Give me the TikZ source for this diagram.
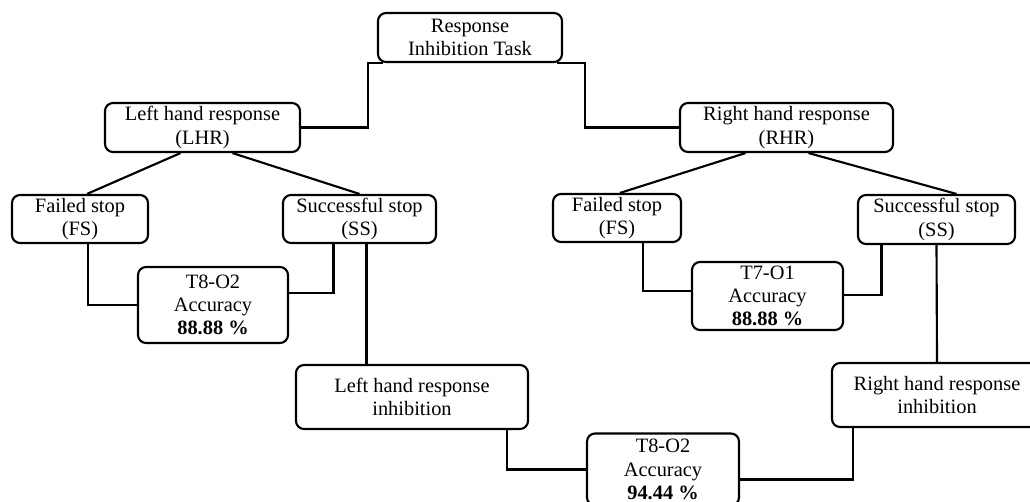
\documentclass[tikz,border=0pt]{standalone}
\usepackage{fontspec}
\setmainfont{Liberation Serif}
\usetikzlibrary{calc}

\tikzset{
  box/.style={draw, rounded corners=6pt, line width=1.6pt, align=center, inner sep=0pt,
    font=\fontsize{15.3}{17.4}\selectfont},
  link/.style={line width=1.6pt}
}

\begin{document}
\begin{tikzpicture}[x=0.75pt,y=0.75pt,yscale=-1,xscale=1]
\useasboundingbox (0,0) rectangle (1030,502);
%Shape: top box
\node [box, minimum width=138pt, minimum height=36.75pt] (top) at (470,37.5) {Response\\Inhibition Task};
%Shape: hand responses
\node [box, minimum width=146.25pt, minimum height=36.75pt] (lhr) at (202.5,127.5) {Left hand response\\(LHR)};
\node [box, minimum width=159.75pt, minimum height=36.75pt] (rhr) at (786.5,127.5) {Right hand response\\(RHR)};
%Shape: stops
\node [box, minimum width=102pt, minimum height=36pt] (fsl) at (80,219) {Failed stop\\(FS)};
\node [box, minimum width=114.75pt, minimum height=36pt] (ssl) at (359.5,219) {Successful stop\\(SS)};
\node [box, minimum width=96pt, minimum height=36pt] (fsr) at (617,218) {Failed stop\\(FS)};
\node [box, minimum width=117.75pt, minimum height=36.75pt] (ssr) at (936.5,219.5) {Successful stop\\(SS)};
%Shape: accuracy boxes
\node [box, minimum width=112.5pt, minimum height=57pt] (accl) at (213,305) {T8-O2\\Accuracy\\\textbf{88.88 \%}};
\node [box, minimum width=113.25pt, minimum height=51pt] (accr) at (767.5,296) {T7-O1\\Accuracy\\\textbf{88.88 \%}};
%Shape: inhibition boxes
\node [box, minimum width=174pt, minimum height=48pt] (lhri) at (412,397) {Left hand response\\inhibition};
\node [box, minimum width=157.5pt, minimum height=48pt] (rhri) at (937,395) {Right hand response\\inhibition};
\node [box, minimum width=114pt, minimum height=54pt] (accb) at (663,469.5) {T8-O2\\Accuracy\\\textbf{94.44 \%}};

% Connectors
\coordinate (sslp) at ($(ssl.south)+(7,0)$);
\draw [link] (lhr.east) -| ($(top.south west)+(-9,0)$) -- ($(top.south west)+(6,0)$);
\draw [link] ($(top.south east)+(-6,0)$) -- ($(top.south east)+(22,0)$) |- (rhr.west);
\draw [link] ($(lhr.south)+(-22,0)$) -- ($(fsl.north)+(7,0)$);
\draw [link] ($(lhr.south)+(30,0)$) -- (ssl.north);
\draw [link] ($(rhr.south)+(-41,0)$) -- ($(fsr.north)+(3,0)$);
\draw [link] ($(rhr.south)+(22,0)$) -- ($(ssr.north)+(20,0)$);
\draw [link] ($(fsl.south)+(8,0)$) |- (accl.west);
\draw [link] ($(accl.east)+(0,-12)$) -| ($(ssl.south)+(-26,0)$);
\draw [link] (sslp) -- (sslp |- lhri.north);
\draw [link] ($(lhri.south)+(95,0)$) |- (accb.west);
\draw [link] ($(accb.east)+(0,10)$) -| ($(rhri.south)+(-84,0)$);
\draw [link] ($(fsr.south)+(26,0)$) |- ($(accr.west)+(0,-5)$);
\draw [link] ($(accr.east)+(0,-1)$) -| ($(ssr.south)+(-55,0)$);
\draw [link] (ssr.south) -- (rhri.north);
\end{tikzpicture}
\end{document}
